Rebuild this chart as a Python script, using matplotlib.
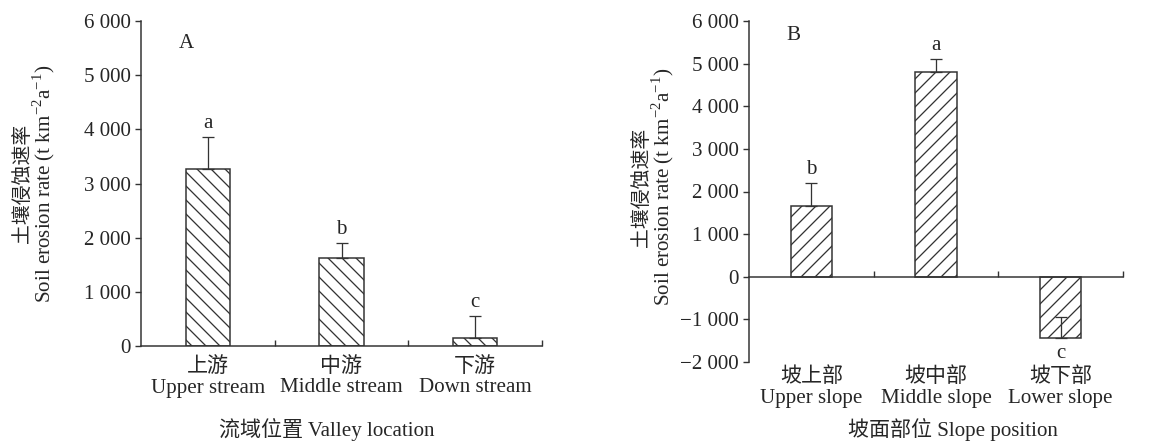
import matplotlib
matplotlib.use("Agg")
import matplotlib.pyplot as plt
from matplotlib.ticker import FuncFormatter

# data
valley_cn = ["上游", "中游", "下游"]
valley_en = ["Upper stream", "Middle stream", "Down stream"]
valley_mean = [3260, 1620, 140]
valley_top = [3860, 1910, 560]
valley_sig = ["a", "b", "c"]

slope_cn = ["坡上部", "坡中部", "坡下部"]
slope_en = ["Upper slope", "Middle slope", "Lower slope"]
slope_mean = [1650, 4810, -1440]
slope_top = [2210, 5110, -950]
slope_sig = ["b", "a", "c"]

W, H, DPI = 1162, 443, 84
FONT = ["Liberation Serif", "Noto Sans CJK SC"]
INK = "#262626"
EDGE = "#333333"

plt.rcParams["font.family"] = FONT
plt.rcParams["mathtext.fontset"] = "custom"
plt.rcParams["mathtext.rm"] = "Liberation Serif"
plt.rcParams["hatch.linewidth"] = 1.1
plt.rcParams["hatch.color"] = EDGE
plt.rcParams["text.color"] = INK

FS = 18


def fx(px):
    return px / W


def fy(py):
    return 1 - py / H


def fmt(v, pos):
    s = f"{abs(int(v)):,}".replace(",", " ")
    return ("\u2212" + s) if v < 0 else s


ylab_en = r"Soil erosion rate (t km$^{\mathregular{-2}}$a$^{\mathregular{-1}}$)"

fig = plt.figure(figsize=(W / DPI, H / DPI), dpi=DPI)


def panel(rect, means, tops, sig, cn, en, hatch, ylim, ticks, letter, letter_xy,
          ylab_x, ylab_y, lab_y, xlabel, xlabel_xy):
    ax = fig.add_axes(rect)
    x = list(range(len(means)))
    ax.bar(x, means, width=0.33, color="white", edgecolor=EDGE, linewidth=1.3,
           hatch=hatch, zorder=2)
    up = [t - m for t, m in zip(tops, means)]
    ax.errorbar(x, means, yerr=[[0] * len(x), up], fmt="none", ecolor=EDGE,
                elinewidth=1.1, capsize=5.5, capthick=1.1, zorder=3)
    for xi, m, t, s in zip(x, means, tops, sig):
        if m >= 0:
            ax.annotate(s, (xi, t), xytext=(0, 3), textcoords="offset points",
                        ha="center", va="bottom", fontsize=FS)
        else:
            ax.annotate(s, (xi, m), xytext=(0, -5), textcoords="offset points",
                        ha="center", va="top", fontsize=FS)
    ax.set_xlim(-0.5, 2.5)
    ax.set_ylim(*ylim)
    ax.set_yticks(ticks)
    ax.yaxis.set_major_formatter(FuncFormatter(fmt))
    ax.set_xticks([0.5, 1.5, 2.5])
    ax.set_xticklabels([])
    ax.tick_params(axis="x", direction="in", length=5, width=1.2, color=EDGE)
    ax.tick_params(axis="y", direction="out", length=5, width=1.2, color=EDGE,
                   labelsize=FS, pad=4, labelcolor=INK)
    for side in ["top", "right"]:
        ax.spines[side].set_visible(False)
    for side in ["left", "bottom"]:
        ax.spines[side].set_linewidth(1.3)
        ax.spines[side].set_color(EDGE)
    ax.spines["bottom"].set_position(("data", 0))
    ax.patch.set_visible(False)

    fig.text(fx(letter_xy[0]), fy(letter_xy[1]), letter, ha="center",
             va="center", fontsize=FS)
    fig.text(fx(ylab_x[0]), fy(ylab_y), "土壤侵蚀速率", rotation=90, ha="center",
             va="center", fontsize=FS - 1)
    fig.text(fx(ylab_x[1]), fy(ylab_y), ylab_en, rotation=90, ha="center",
             va="center", fontsize=FS)
    for xi, c, e in zip(x, cn, en):
        ax.text(xi, fy(lab_y[0]), c, transform=ax.get_xaxis_transform().__class__(
            ax.transData, fig.transFigure), ha="center", va="center", fontsize=FS)
        ax.text(xi, fy(lab_y[1]), e, transform=ax.get_xaxis_transform().__class__(
            ax.transData, fig.transFigure), ha="center", va="center", fontsize=FS)
    fig.text(fx(xlabel_xy[0]), fy(xlabel_xy[1]), xlabel, ha="center",
             va="center", fontsize=FS)
    return ax


panel([fx(141), fy(346), fx(542) - fx(141), fy(21) - fy(346)],
      valley_mean, valley_top, valley_sig, valley_cn, valley_en, "\\\\",
      (0, 6000), range(0, 6001, 1000), "A", (186, 43),
      (23, 44), 183.5, (367, 388), "流域位置 Valley location", (327, 430))

panel([fx(749), fy(362), fx(1123) - fx(749), fy(21) - fy(362)],
      slope_mean, slope_top, slope_sig, slope_cn, slope_en, "//",
      (-2000, 6000), range(-2000, 6001, 1000), "B", (793, 36),
      (642, 663), 187, (377, 398), "坡面部位 Slope position", (953, 430))

fig.savefig("out.png", dpi=DPI)
